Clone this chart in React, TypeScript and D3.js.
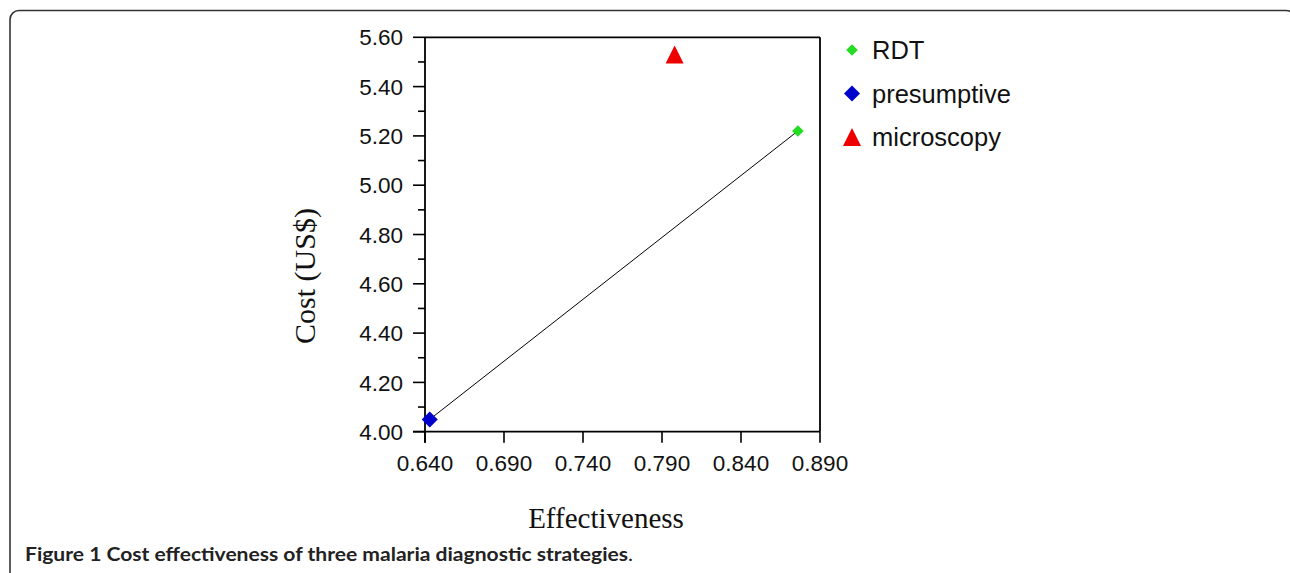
import React from "react";
import * as d3 from "d3";

const strategies = ["RDT", "presumptive", "microscopy"];
const effectiveness = [0.876, 0.643, 0.798];
const cost = [5.22, 4.05, 5.53];
const colors = ["#22dd22", "#0000cc", "#ee0000"];
const shapes = ["smallDiamond", "diamond", "triangle"];

const xTicks = [0.64, 0.69, 0.74, 0.79, 0.84, 0.89];
const yTicks = [4.0, 4.2, 4.4, 4.6, 4.8, 5.0, 5.2, 5.4, 5.6];
const yMinorTicks = [4.1, 4.3, 4.5, 4.7, 4.9, 5.1, 5.3, 5.5];
// line joins the dominant strategies: presumptive -> RDT
const frontier = ["presumptive", "RDT"];

const xLabel = "Effectiveness";
const yLabel = "Cost (US$)";
const captionBold = "Figure 1";
const captionText = " Cost effectiveness of three malaria diagnostic strategies";

function marker(shape: string, cx: number, cy: number, color: string, key?: string) {
  if (shape === "triangle") {
    const h = 18, w = 18;
    const d = `M${cx},${cy - h / 2}L${cx + w / 2},${cy + h / 2}L${cx - w / 2},${cy + h / 2}Z`;
    return <path key={key} d={d} fill={color} />;
  }
  const r = shape === "diamond" ? 8 : 5.8;
  const d = `M${cx},${cy - r}L${cx + r},${cy}L${cx},${cy + r}L${cx - r},${cy}Z`;
  return <path key={key} d={d} fill={color} />;
}

export default function App() {
  const x = d3.scaleLinear().domain([0.64, 0.89]).range([425, 820]);
  const y = d3.scaleLinear().domain([4.0, 5.6]).range([431.7, 37.3]);
  const fmtX = d3.format(".3f");
  const fmtY = d3.format(".2f");
  const sans = "'Liberation Sans', Arial, sans-serif";
  const serif = "'Liberation Serif', 'Times New Roman', serif";

  const idx = (n: string) => strategies.indexOf(n);
  const lineGen = d3
    .line<number>()
    .x((i) => x(effectiveness[i]))
    .y((i) => y(cost[i]));

  const x0 = x(0.64), x1 = x(0.89), y0 = y(4.0), y1 = y(5.6);

  return (
    <svg
      width={1290}
      height={573}
      style={{ position: "fixed", left: 0, top: 0, background: "#fff" }}
    >
      <rect x={0} y={0} width={1290} height={573} fill="#fff" />
      {/* outer frame */}
      <rect x={10} y={10.5} width={1285} height={620} rx={9} ry={9} fill="none" stroke="#333" strokeWidth={1.6} />

      {/* plot box */}
      <line x1={x0} x2={x1} y1={y1} y2={y1} stroke="#000" strokeWidth={1.8} />
      <line x1={x1} x2={x1} y1={y1} y2={y0} stroke="#000" strokeWidth={1.8} />
      <line x1={x0} x2={x0} y1={y1} y2={y0 + 11} stroke="#000" strokeWidth={1.8} />
      <line x1={x0 - 12} x2={x1} y1={y0} y2={y0} stroke="#000" strokeWidth={1.8} />

      {/* y ticks */}
      {yTicks.map((t) => (
        <g key={"y" + t}>
          <line x1={x0 - 12} x2={x0} y1={y(t)} y2={y(t)} stroke="#000" strokeWidth={1.6} />
          <text x={403} y={y(t)} dy="0.36em" textAnchor="end" fontFamily={sans} fontSize={22.5} fill="#111">
            {fmtY(t)}
          </text>
        </g>
      ))}
      {yMinorTicks.map((t) => (
        <line key={"ym" + t} x1={x0 - 7} x2={x0} y1={y(t)} y2={y(t)} stroke="#000" strokeWidth={1.6} />
      ))}

      {/* x ticks */}
      {xTicks.map((t) => (
        <g key={"x" + t}>
          <line x1={x(t)} x2={x(t)} y1={y0} y2={y0 + 11} stroke="#000" strokeWidth={1.6} />
          <text x={x(t)} y={470.5} textAnchor="middle" fontFamily={sans} fontSize={22.5} fill="#111">
            {fmtX(t)}
          </text>
        </g>
      ))}

      {/* frontier line */}
      <path d={lineGen(frontier.map(idx)) || ""} fill="none" stroke="#000" strokeWidth={1} />

      {/* points */}
      {strategies.map((s, i) =>
        marker(shapes[i], x(effectiveness[i]), y(cost[i]), colors[i], "p" + s)
      )}

      {/* axis labels */}
      <text x={606} y={528} textAnchor="middle" fontFamily={serif} fontSize={29} fill="#111">
        {xLabel}
      </text>
      <text
        transform={`translate(315,276) rotate(-90)`}
        textAnchor="middle"
        fontFamily={serif}
        fontSize={30}
        fill="#111"
      >
        {yLabel}
      </text>

      {/* legend */}
      {strategies.map((s, i) => {
        const ly = 50 + i * 43.5;
        return (
          <g key={"l" + s}>
            {marker(shapes[i], 852, ly, colors[i])}
            <text x={872} y={ly} dy="0.36em" fontFamily={sans} fontSize={25.5} fill="#111">
              {s}
            </text>
          </g>
        );
      })}

      {/* caption */}
      <text
        x={25}
        y={561}
        fontFamily="Lato, 'Open Sans', sans-serif"
        fontSize={19}
        fill="#222"
        textLength={608}
        lengthAdjust="spacingAndGlyphs"
      >
        <tspan fontWeight="bold">{captionBold}</tspan>
        <tspan fontWeight="bold">{captionText}</tspan>
        <tspan>.</tspan>
      </text>
    </svg>
  );
}
